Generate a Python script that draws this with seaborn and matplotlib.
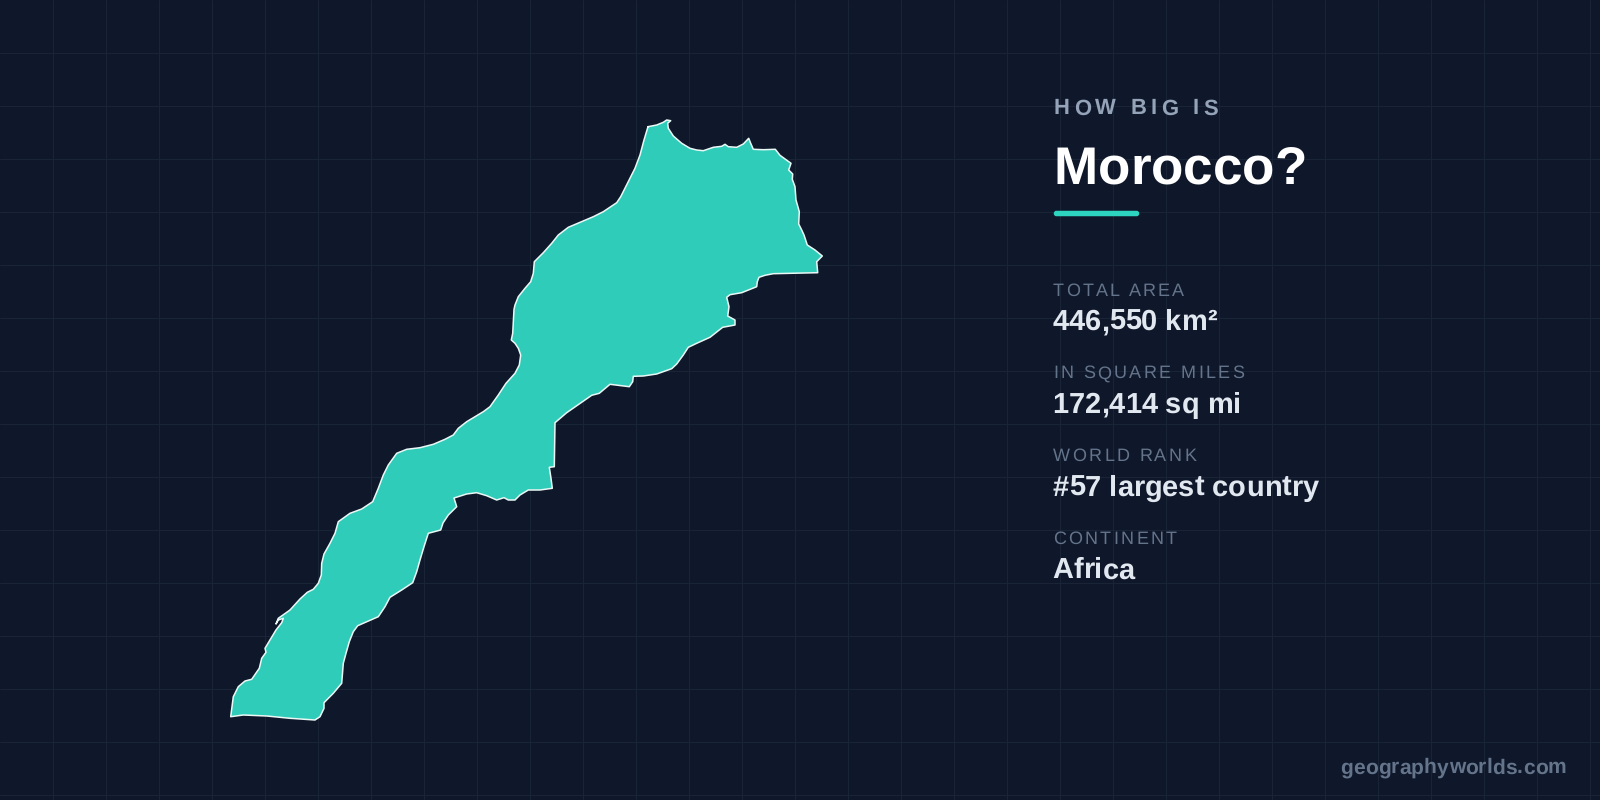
import matplotlib
matplotlib.use("Agg")
import matplotlib.pyplot as plt
import seaborn as sns
import numpy as np
from matplotlib.text import Text
from matplotlib.transforms import Bbox, IdentityTransform
from matplotlib.patches import FancyBboxPatch

# ---- data -------------------------------------------------------------
north_x = [648,656.7,663.3,666.7,670.7,667.7,668.3,673.3,681.7,690,696.7,703.3,708.3,713.3,721.7,725,728.3,736.7,743.3,748.7,750.7,753.3,763.3,775.3,780,791]
north_y = [126.7,125,122.3,120,120.7,123.3,128.3,136,143.3,148.3,150,150.7,149,147.3,146.3,144.3,146.7,147.3,144,138.3,143.3,149.3,149.7,149.3,155.3,163.3]
east_x = [788.7,792.7,792.3,795,796,799.3,798.7,801.7,804,807.3,815,822.3,816.7,817.7,793.3,773.3,765,759,757.3,756.7,748.3,741.7,730,726.7,729,727.7,735,735,722.7,710,696.7,688.3,683.3,676.7,671.7,656.7,643.3,633.3,632.7,629.3,610,599.3,591.7,566.7,555,554.3]
east_y = [170,174,179.3,186.7,200,211.7,224,230,235,245,250,256,261.7,272.7,273.3,273.7,275.3,277.3,281.7,286.7,290,292.7,294.7,297.3,306.7,316,320,325,327.3,337.3,343.3,347.3,355,364,368.7,374,376,376.3,381.7,386.7,384.3,393.3,395.3,412.7,422.7,466.7]
south_x = [549.3,551,552.3,540,528.3,520,515,508.3,504,496.7,486.7,476.7,466.7,454,456.7,448.3,443,440.7,428.3,424,420,416.7,412.7,401.7,390,385,378.3,366.7,357.7,353.3,349.3,346,343.3,341.7,333.3,324,324,320,315,290,266.7,243.3,230.7]
south_y = [467.3,478.3,488.3,490,490,495,500,500,497.7,500,495.7,492.7,494,498,506.7,515,523,530,533.3,546.7,560,571.7,582.7,590,597.3,606.7,616.7,621.7,625.7,631.7,641.7,653.3,663.3,683.3,693.3,702.7,708.3,716.7,720,718.3,716,715,716.7]
west_x = [233.3,238.3,245,251.7,259.3,261.7,266,265,276,281.7,283.3,278.3,276,278.3,290,300,307.3,313.3,318.3,321.3,321.7,324,330,335,338.3,350,361.7,372.7,378.3,383.3,388.3,396.7,406.7,420,433.3,445,453.3,458.3,466.7,483.3,490,498.3,506,515,519.3,520.7,518.3,515,511.3,512.7,514,515,518.3,525,530.7,533.3,534.3,543.3,551.7,558.3,568.3,580,593.3,603.3,616.7,620.7,628.3,635,640,644]
west_y = [696.7,686.7,681,679.3,668.3,658.3,652.3,648.3,630,622.7,618.3,620,624,618.3,610,599,592.3,589.3,583.3,575,563.3,554,543.3,533.3,521.7,513.3,509,501.7,488.3,475,465,453.3,449.3,447.7,444.3,439.3,435,428.3,421.7,411.7,406.7,395,383.3,373.3,365,355,348.3,343.3,340,333.3,309.3,305,296.7,288.3,281.7,273.3,261.7,252.7,243.3,235,227.3,222.3,216.7,211.7,202.7,196.7,181.7,168.3,155,140]

kicker = "HOW BIG IS"
country = "Morocco?"
stat_labels = ["TOTAL AREA", "IN SQUARE MILES", "WORLD RANK", "CONTINENT"]
stat_values = ["446,550 km²", "172,414 sq mi", "#57 largest country", "Africa"]
credit = "geographyworlds.com"

BG = "#0F172A"; GRID = "#1A2437"; FILL = "#2FCDB9"; ACCENT = "#2DD4BF"

sns.set_theme(style="dark", rc={"figure.facecolor": BG, "axes.facecolor": BG})
plt.rcParams["font.family"] = ["Liberation Sans", "DejaVu Sans"]
plt.rcParams["text.hinting"] = "no_hinting"
plt.rcParams["text.hinting_factor"] = 1

fig = plt.figure(figsize=(16, 8), dpi=100)
ax = fig.add_axes([0, 0, 1, 1])
ax.set_xlim(0, 1600); ax.set_ylim(800, 0)
ax.set_xticks(np.arange(53, 1600, 53)); ax.set_yticks(np.arange(53, 800, 53))
ax.tick_params(left=False, bottom=False, labelleft=False, labelbottom=False)
ax.grid(True, color=GRID, linewidth=0.72)
ax.set_axisbelow(True)
for s in ax.spines.values():
    s.set_visible(False)

ox = north_x + east_x + south_x + west_x + north_x[:1]
oy = north_y + east_y + south_y + west_y + north_y[:1]
ax.fill(ox, oy, color=FILL, lw=0, zorder=3)
sns.lineplot(x=ox, y=oy, sort=False, estimator=None, color="#EAF8F6", linewidth=1.1,
             solid_joinstyle="round", ax=ax, zorder=4)
ax.set_xlabel(""); ax.set_ylabel("")


class Tracked(Text):
    """A single text artist drawn with extra letter spacing (pixels)."""
    def __init__(self, *a, track=0, **k):
        super().__init__(*a, **k)
        self.track = track

    def draw(self, renderer):
        s = self.get_text()
        x0, y0 = self.get_transform().transform(self.get_position())
        fp = self.get_fontproperties()
        bar = renderer.get_text_width_height_descent("|", fp, False)[0]
        for i, ch in enumerate(s):
            w = renderer.get_text_width_height_descent(s[:i] + "|", fp, False)[0] - bar if i else 0
            t = Text(x0 + w + i * self.track, y0, ch, color=self.get_color(), fontproperties=fp,
                     va="baseline", ha="left", transform=IdentityTransform())
            t.figure = self.figure
            t.draw(renderer)

    def get_window_extent(self, renderer=None, dpi=None):
        b = super().get_window_extent(renderer, dpi)
        return Bbox.from_extents(b.x0, b.y0, b.x1 + self.track * (len(self.get_text()) - 1), b.y1)


def label(x, y, s, px, color, weight="normal", track=0):
    t = Tracked(x, y, s, track=track, color=color, fontsize=px * 0.72, fontweight=weight,
                va="baseline", ha="left", transform=ax.transData, zorder=6)
    ax.add_artist(t)
    return t


label(1053.5, 114.3, kicker, 22, "#94A3B8", "bold", 4.3)
label(1053.5, 184, country, 53.3, "#FFFFFF", "bold", 0)
ax.add_patch(FancyBboxPatch((1055.5, 212.5), 82, 2, boxstyle="round,pad=0,rounding_size=1",
                            mutation_scale=1, fc=ACCENT, ec=ACCENT, lw=2.5, zorder=6))
for i, (a, b) in enumerate(zip(stat_labels, stat_values)):
    label(1053, 295.6 + i * 82.7, a, 18, "#64748B", "normal", 2.35)
    label(1052.5, 330.2 + i * 82.7, b, 29.4, "#E2E8F0", "bold", 0)
label(1340.5, 773.3, credit, 21, "#64748B", "bold", 0.1)

fig.savefig("out.png", dpi=100, facecolor=BG)
